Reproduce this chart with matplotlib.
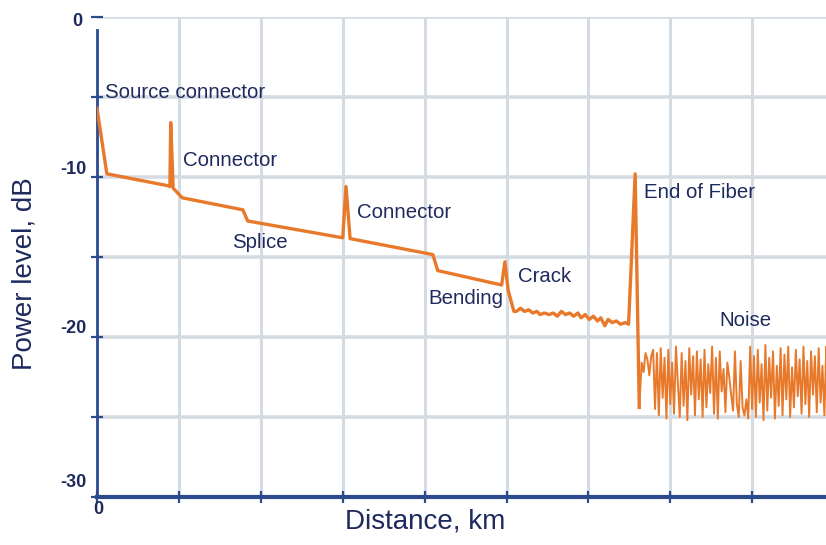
import numpy as np
import matplotlib.pyplot as plt

# OTDR trace, distance in grid units (one grid cell = one step), level in dB
trace_km = [0.00, 0.12, 0.87, 0.89, 0.90, 0.93, 1.04, 1.78, 1.84, 3.00, 3.04, 3.09,
            4.10, 4.16, 4.94, 4.98, 5.02, 5.09,
            5.12, 5.17, 5.22, 5.27, 5.32, 5.37, 5.41, 5.46, 5.52, 5.57, 5.62, 5.67,
            5.72, 5.77, 5.82, 5.87, 5.91, 5.96, 6.01, 6.06, 6.11, 6.15, 6.20, 6.24,
            6.29, 6.34, 6.39, 6.45, 6.49, 6.57, 6.62]
trace_db = [-5.7, -9.8, -10.55, -10.6, -6.6, -10.7, -11.3, -12.05, -12.75, -13.8, -10.6, -13.85,
            -14.85, -15.85, -16.75, -15.3, -17.1, -18.4,
            -18.4, -18.2, -18.4, -18.3, -18.5, -18.4, -18.6, -18.5, -18.6, -18.5, -18.7, -18.4,
            -18.6, -18.5, -18.7, -18.5, -18.8, -18.6, -18.9, -18.7, -19.0, -18.8, -19.3, -18.9,
            -19.1, -19.0, -19.2, -19.1, -19.2, -9.8, -24.4]

noise_start, noise_end = 6.65, 8.95
noise_db = [-21.6, -22.2, -21.0, -21.4, -22.4, -21.2, -20.8, -24.5, -21.0, -24.9,
            -20.7, -23.8, -21.3, -25.1, -20.8, -24.2, -21.6, -24.8, -20.6, -22.9,
            -25.0, -21.0, -24.3, -21.5, -25.2, -20.7, -23.6, -21.2, -24.9, -20.9,
            -23.9, -21.4, -25.0, -20.8, -24.4, -21.7, -23.5, -20.6, -24.8, -21.3,
            -25.1, -20.9, -23.4, -22.0, -24.7, -21.6, -22.5, -23.6, -24.6, -20.9,
            -24.2, -25.0, -21.5, -24.4, -24.9, -23.9, -25.1, -20.6, -24.5, -21.2,
            -25.0, -20.8, -24.1, -21.7, -25.2, -20.5, -24.6, -21.3, -23.8, -20.9,
            -25.1, -21.8, -24.3, -20.7, -24.9, -21.1, -23.9, -20.6, -25.0, -21.9,
            -24.4, -20.8, -23.7, -21.4, -24.8, -20.6, -24.2, -21.5, -25.0, -20.9,
            -23.6, -21.2, -24.7, -20.7, -24.1, -21.8, -24.9, -20.6, -23.8, -22.1]

events = ["Source connector", "Connector", "Connector", "Splice",
          "Bending", "Crack", "End of Fiber", "Noise"]
event_km = [0.10, 1.05, 3.18, 1.65, 4.04, 5.14, 6.68, 7.60]
event_db = [-4.75, -8.95, -12.25, -14.1, -17.6, -16.2, -10.95, -18.95]

ytick_vals = [0, -5, -10, -15, -20, -25, -30]
ytick_text = ["0", "-10", "-20", "-30"]
ytick_text_db = [-0.3, -9.5, -19.45, -29.1]
ytick_text_km = [-0.24, -0.29, -0.29, -0.29]

navy = "#1e2a5e"
axis_blue = "#2c4b8e"
orange = "#e8792b"
grid_col = "#d5dbe2"

plt.rcParams["font.family"] = ["Liberation Sans", "DejaVu Sans"]

fig = plt.figure(figsize=(8.26, 5.45), dpi=100)
fig.patch.set_facecolor("white")
ax = fig.add_axes([97 / 826, 48 / 545, 729 / 826, 480 / 545])
ax.set_xlim(0, 8.9)
ax.set_ylim(-30, 0)

# grid
for v in range(1, 9):
    ax.axvline(v, color=grid_col, lw=2.2, zorder=0)
for v in ytick_vals:
    ax.axhline(v, color=grid_col, lw=2.6, zorder=0)

noise_km = np.linspace(noise_start, noise_end, len(noise_db))
ax.plot(trace_km, trace_db, color=orange, lw=2.4, solid_joinstyle="round", zorder=3)
ax.plot(np.r_[trace_km[-1], noise_km], np.r_[trace_db[-1], noise_db],
        color=orange, lw=1.4, zorder=3)

for name, xk, yd in zip(events, event_km, event_db):
    ax.text(xk, yd, name, color=navy, fontsize=14.7, ha="left", va="center")

# axes styling
for s in ["top", "right"]:
    ax.spines[s].set_visible(False)
ax.spines["left"].set_color(axis_blue)
ax.spines["left"].set_linewidth(2.0)
ax.spines["left"].set_bounds(-30, -0.8)
ax.spines["bottom"].set_color(axis_blue)
ax.spines["bottom"].set_linewidth(3.0)

ax.set_xticks(range(0, 9))
ax.set_xticklabels([])
ax.set_yticks(ytick_vals)
ax.set_yticklabels([])
ax.tick_params(axis="both", direction="inout", length=9, width=1.6, colors=axis_blue)

for t, xk, yd in zip(ytick_text, ytick_text_km, ytick_text_db):
    ax.text(xk, yd, t, color=navy, fontsize=13, fontweight="bold",
            ha="center", va="center", clip_on=False)
ax.text(0.02, -30.8, "0", color=navy, fontsize=13, fontweight="bold",
        ha="center", va="center", clip_on=False)

fig.text(25 / 826, 1 - 274 / 545, "Power level, dB", color=navy, fontsize=20,
         rotation=90, ha="center", va="center")
fig.text(425 / 826, 1 - 521 / 545, "Distance, km", color=navy, fontsize=20,
         ha="center", va="center")

fig.savefig("out.png", dpi=100, facecolor="white")
